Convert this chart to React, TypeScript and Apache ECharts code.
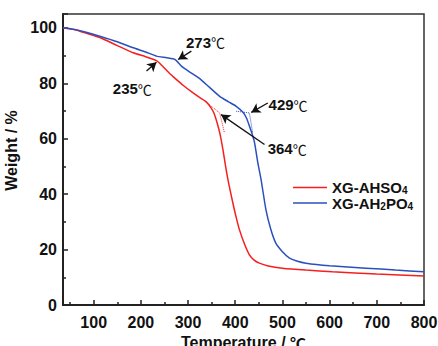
import React, { useEffect, useRef } from "react";
import * as echarts from "echarts";

const redName = "XG-AHSO4";
const blueName = "XG-AH2PO4";

const redTemp = [35, 60, 80, 113, 150, 184, 210, 233, 240, 260, 275, 290, 310, 325, 339, 348, 355, 362, 368, 374, 380, 386, 395, 402, 409, 420, 430, 440, 451, 470, 500, 550, 606, 700, 800];
const redWeight = [100, 99.3, 98.3, 96.5, 93.6, 91.0, 89.6, 88.2, 87.2, 83.7, 81.4, 79.2, 76.6, 74.8, 73.2, 71.3, 69.2, 65.5, 61.5, 56.0, 49.6, 44.0, 36.8, 31.6, 27.1, 21.8, 18.1, 16.2, 15.1, 14.1, 13.3, 12.6, 12.0, 11.2, 10.5];

const blueTemp = [35, 60, 80, 113, 150, 184, 210, 233, 255, 272, 286, 300, 324, 345, 367, 385, 402, 416, 424, 430, 436, 441, 448, 455, 465, 475, 486, 500, 515, 530, 550, 600, 677, 740, 800];
const blueWeight = [100, 99.4, 98.6, 97.0, 95.0, 92.8, 91.3, 89.8, 89.2, 88.6, 86.2, 84.5, 81.8, 78.6, 75.3, 73.4, 71.7, 69.6, 67.4, 64.6, 61.6, 58.5, 51.2, 45.0, 34.4, 27.5, 22.3, 19.2, 16.9, 15.9, 15.1, 14.2, 13.3, 12.6, 12.0];

// onset tangent constructions (dotted)
const redTangentTemp = [345, 367, 377];
const redTangentWeight = [72.3, 69.3, 62.2];
const blueTangentTemp = [402, 430, 437];
const blueTangentWeight = [69.9, 69.3, 62.1];

// annotations: label text, label position, arrow start, arrow end (data coords)
const annLabels = ["273", "235", "429", "364"];
const annLabelPos = [[337, 94.8], [182, 78.1], [512, 72.3], [510, 56.4]];
const annArrowFrom = [[307, 91.6], [212, 84.4], [469, 72.9], [462, 57.9]];
const annArrowTo = [[279, 88.6], [233, 87.6], [434, 69.5], [370, 68.7]];

const RED = "#f51f1f";
const BLUE = "#2c4fbf";
const FONT = "'Liberation Sans', Arial, sans-serif";
const CJK = "'Noto Sans CJK SC', sans-serif";

function zip(a: number[], b: number[]) {
  return a.map((v, i) => [v, b[i]]);
}

export default function App() {
  const ref = useRef<HTMLDivElement>(null);
  useEffect(() => {
    if (!ref.current) return;
    const chart = echarts.init(ref.current, null, { renderer: "svg" });
    const axisText = { color: "#111", fontSize: 16, fontWeight: "bold" as const, fontFamily: FONT };
    const option: any = {
      animation: false,
      backgroundColor: "#fff",
      grid: {
        left: 63,
        right: 14,
        top: 14,
        bottom: 41,
        show: true,
        borderColor: "#333",
        borderWidth: 1.5,
        containLabel: false,
        outerBoundsMode: "none",
      },
      legend: {
        orient: "vertical",
        left: 288,
        top: 175,
        icon: "rect",
        itemWidth: 34,
        itemHeight: 1.5,
        itemGap: 0,
        data: [redName, blueName],
        formatter: (name: string) =>
          name === redName ? "{b|XG-AHSO}{s|4}" : "{b|XG-AH}{s|2}{b|PO}{s|4}",
        textStyle: {
          rich: {
            b: { fontSize: 15, fontWeight: "bold", fontFamily: FONT, color: "#111", lineHeight: 16 },
            s: { fontSize: 10, fontWeight: "bold", fontFamily: FONT, color: "#111", lineHeight: 2, verticalAlign: "bottom" },
          },
        },
      },
      xAxis: {
        type: "value",
        min: 35,
        max: 800,
        splitNumber: 8,
        name: "Temperature / {c|℃}",
        nameLocation: "middle",
        nameGap: 27,
        nameTextStyle: {
          ...axisText,
          rich: { c: { fontSize: 16, fontFamily: CJK, color: "#111" } },
        },
        axisLine: { lineStyle: { color: "#222", width: 2 } },
        axisTick: { inside: true, length: 5, lineStyle: { color: "#222", width: 1.5 } },
        minorTick: { show: true, splitNumber: 2, length: 3, lineStyle: { color: "#222", width: 1.5 } },
        axisLabel: { ...axisText, margin: 9, showMinLabel: false },
        splitLine: { show: false },
      },
      yAxis: {
        type: "value",
        min: 0,
        max: 105,
        interval: 20,
        name: "Weight / %",
        nameLocation: "middle",
        nameGap: 40,
        nameTextStyle: { ...axisText, padding: [0, 0, 0, 18] },
        axisLine: { show: true, lineStyle: { color: "#222", width: 2 } },
        axisTick: { show: true, inside: true, length: 5, lineStyle: { color: "#222", width: 1.5 } },
        minorTick: { show: true, splitNumber: 2, length: 3, lineStyle: { color: "#222", width: 1.5 } },
        axisLabel: { ...axisText, margin: 6, showMaxLabel: false },
        splitLine: { show: false },
      },
      series: [
        {
          name: redName,
          type: "line",
          data: zip(redTemp, redWeight),
          symbol: "none",
          smooth: 0.2,
          lineStyle: { color: RED, width: 1.5 },
          itemStyle: { color: RED },
          z: 3,
        },
        {
          name: blueName,
          type: "line",
          data: zip(blueTemp, blueWeight),
          symbol: "none",
          smooth: 0.2,
          lineStyle: { color: BLUE, width: 1.5 },
          itemStyle: { color: BLUE },
          z: 3,
        },
        {
          name: "redTangent",
          type: "line",
          data: zip(redTangentTemp, redTangentWeight),
          symbol: "none",
          lineStyle: { color: RED, width: 1, type: "dotted" },
          z: 2,
        },
        {
          name: "blueTangent",
          type: "line",
          data: zip(blueTangentTemp, blueTangentWeight),
          symbol: "none",
          lineStyle: { color: BLUE, width: 1, type: "dotted" },
          z: 2,
        },
        {
          name: "annotations",
          type: "line",
          data: [],
          symbol: "none",
          silent: true,
          markLine: {
            silent: true,
            symbol: ["none", "arrow"],
            symbolSize: [8, 9],
            label: { show: false },
            lineStyle: { color: "#111", width: 1.3, type: "solid" },
            data: annArrowFrom.map((f, i) => [{ coord: f }, { coord: annArrowTo[i] }]),
          },
          markPoint: {
            silent: true,
            symbol: "circle",
            symbolSize: 0,
            data: annLabels.map((t, i) => ({ coord: annLabelPos[i], value: t })),
            label: {
              show: true,
              position: "inside",
              formatter: (p: any) => `{n|${p.value}}{c|℃}`,
              rich: {
                n: { fontSize: 15, fontWeight: "bold", fontFamily: FONT, color: "#111" },
                c: { fontSize: 14, fontFamily: CJK, color: "#111" },
              },
            },
          },
        },
      ],
    };
    chart.setOption(option);
    return () => chart.dispose();
  }, []);
  return (
    <div
      ref={ref}
      style={{ position: "fixed", left: 0, top: 0, width: 438, height: 346, background: "#fff" }}
    />
  );
}
